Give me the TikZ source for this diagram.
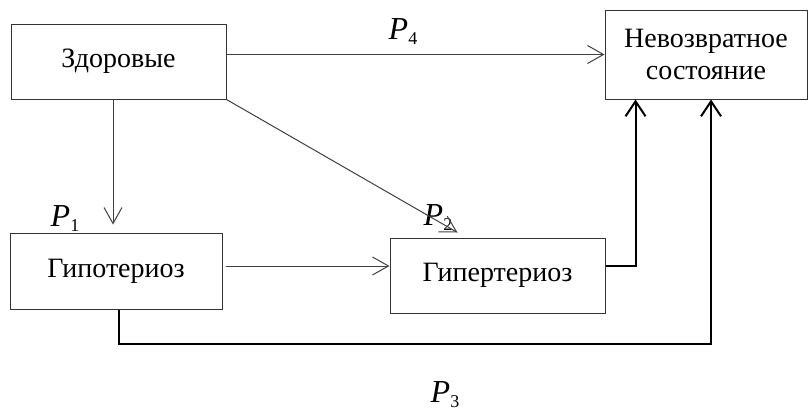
\documentclass[tikz,border=0pt]{standalone}
\usepackage{fontspec}
\setmainfont{Liberation Serif}
\usepackage{tikz}
\usetikzlibrary{arrows.meta,calc}
\newcommand{\prob}[1]{\textit{P}\raisebox{-2.5pt}{\fontsize{9}{9}\selectfont #1}}

\begin{document}
\begin{tikzpicture}
    [
      x=0.5pt, y=-0.5pt,
      state/.style = {draw=black!80, line width=0.5pt, font=\fontsize{14}{16}\selectfont, align=center, inner sep=0pt},
      thin arrow/.style = {draw=black!75, line width=0.5pt, -{Straight Barb[length=8pt,width=9pt]}},
      thick arrow/.style = {draw=black, line width=1pt, -{Straight Barb[length=7.5pt,width=10pt]}},
      prob/.style = {font=\fontsize{16}{16}\selectfont, inner sep=0pt},
    ]
    \useasboundingbox (0,0) rectangle (808,414);

    \node[state, minimum width=107.5pt, minimum height=37.5pt] (healthy) at (118.5,61.5) {Здоровые};
    \node[state, minimum width=101pt, minimum height=44.5pt] (final) at (706,54.5) {Невозвратное\\состояние};
    \node[state, minimum width=106pt, minimum height=38pt] (hypo) at (116,271) {Гипотериоз};
    \node[state, minimum width=107.5pt, minimum height=37.5pt] (hyper) at (497.5,275.5) {Гипертериоз};

    \node[prob] (p1) at (65,219) {\prob{1}};
    \node[prob] (p2) at (438,218) {\prob{2}};
    \node[prob] (p3) at (445,395) {\prob{3}};
    \node[prob] (p4) at (403,32) {\prob{4}};

    \draw[thin arrow] ($(healthy.south)+(-5.5,0)$) -- ($(healthy.south |- hypo.north)+(-5.5,-8)$);
    \draw[thin arrow] (healthy.south east) -- ($(hyper.north west)+(68,-5)$);
    \draw[thin arrow] ($(hypo.east)+(3,-5)$) -- ($(hypo.east -| hyper.west)+(0,-5)$);
    \draw[thin arrow] (healthy.east |- final.west) -- (final.west);
    \draw[thick arrow] ($(hyper.east)+(0,-10)$) -| ($(final.south west)+(31,0)$);
    \draw[thick arrow] ($(hypo.south)+(3,0)$) -- ++(0,34) -| ($(final.south)+(5,0)$);
  \end{tikzpicture}
\end{document}
